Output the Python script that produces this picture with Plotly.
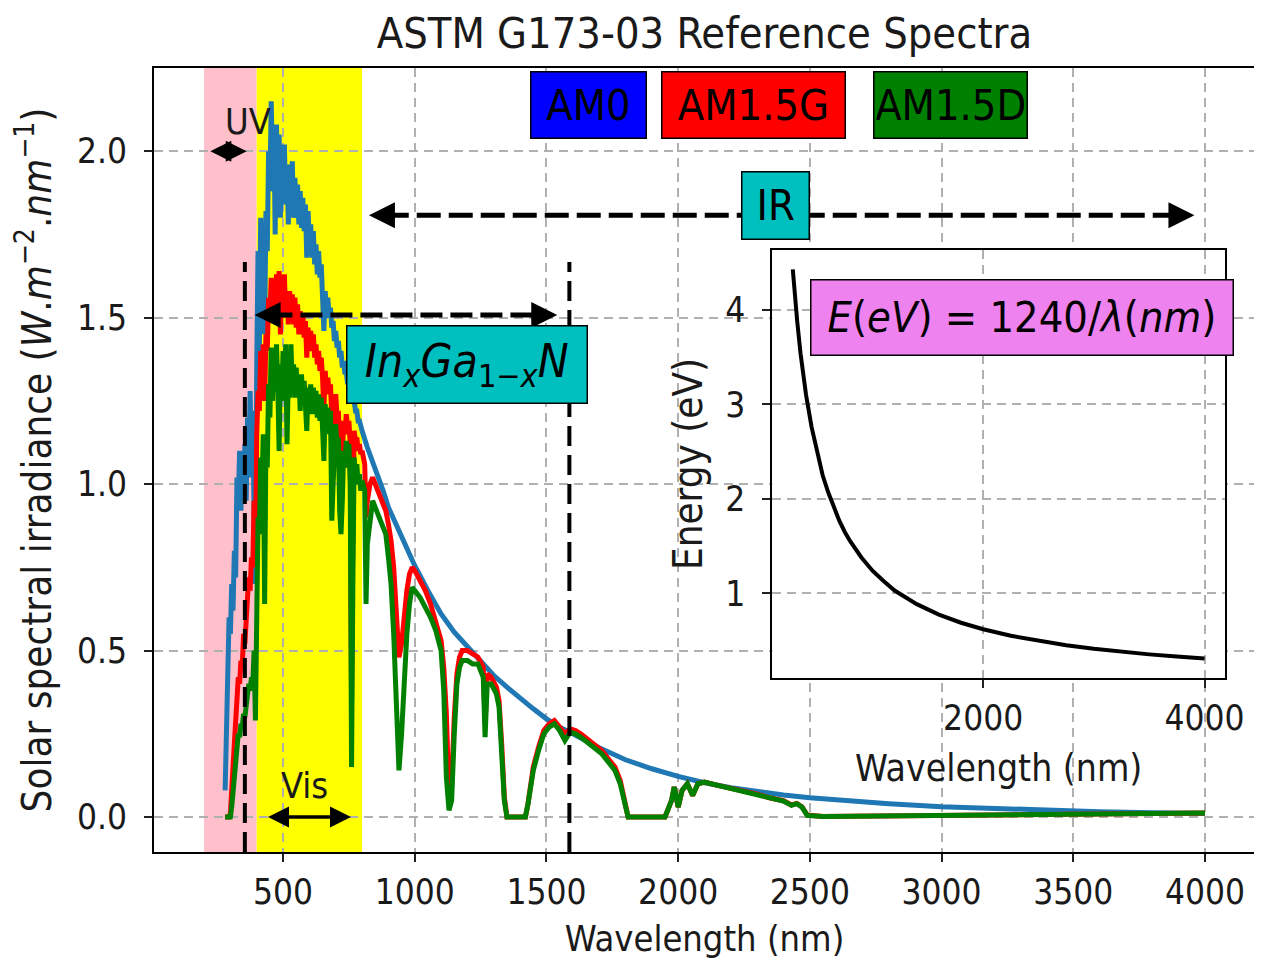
import plotly.graph_objects as go

# ---------------- data ----------------
wl_am0 = [280, 285, 290, 295,
          300, 305, 310, 315, 320, 325, 330, 335, 340, 345,
          350, 355, 360, 365, 370, 375, 380, 385, 390, 395,
          400, 405, 410, 415, 420, 425, 430, 435, 440, 445,
          450, 455, 460, 465, 470, 475, 480, 485, 490, 495,
          500, 505, 510, 515, 520, 525, 530, 535, 540, 545,
          550, 555, 560, 565, 570, 575, 580, 585, 590, 595,
          600, 605, 610, 615, 620, 625, 630, 635, 640, 645,
          650, 655, 660, 665, 670, 675, 680, 685, 690, 695,
          700, 705, 710, 715, 720, 725, 730, 735, 740, 745,
          750, 755, 760, 765, 770, 775, 780, 785, 790, 795,
          800, 820, 850, 880, 900, 950, 1000, 1050, 1100, 1150,
          1200, 1250, 1300, 1350, 1400, 1450, 1500, 1550, 1600, 1650,
          1700, 1800, 1900, 2000, 2100, 2200, 2300, 2400, 2500, 2600,
          2800, 3000, 3200, 3400, 3600, 3800, 4000]
am0 = [0.08, 0.26, 0.50, 0.60,
       0.55, 0.70, 0.62, 0.80, 0.72, 1.02, 0.95, 1.10, 0.92, 1.08,
       0.98, 1.12, 0.95, 1.20, 1.05, 1.28, 1.02, 1.22, 0.90, 0.70,
       1.35, 1.70, 1.40, 1.80, 1.62, 1.78, 1.45, 1.82, 1.70, 2.00,
       1.88, 2.15, 1.95, 2.08, 1.75, 2.08, 1.90, 2.05, 1.80, 2.02,
       1.85, 2.02, 1.84, 1.95, 1.78, 1.96, 1.85, 1.97, 1.80, 1.92,
       1.82, 1.90, 1.78, 1.88, 1.77, 1.86, 1.76, 1.84, 1.68, 1.82,
       1.72, 1.78, 1.68, 1.76, 1.66, 1.72, 1.63, 1.70, 1.62, 1.66,
       1.56, 1.46, 1.58, 1.52, 1.56, 1.50, 1.53, 1.47, 1.49, 1.43,
       1.46, 1.41, 1.43, 1.38, 1.40, 1.35, 1.37, 1.33, 1.34, 1.30,
       1.31, 1.28, 1.28, 1.25, 1.25, 1.22, 1.22, 1.19, 1.19, 1.17,
       1.16, 1.11, 1.05, 0.98, 0.93, 0.84, 0.755, 0.68, 0.61, 0.555,
       0.51, 0.47, 0.425, 0.39, 0.355, 0.325, 0.295, 0.27, 0.25, 0.228,
       0.208, 0.172, 0.145, 0.122, 0.103, 0.088, 0.076, 0.066, 0.058, 0.051,
       0.040, 0.031, 0.025, 0.020, 0.016, 0.013, 0.011]

wl_ground = [280, 290, 295,
             300, 305, 310, 315, 320, 325, 330, 335, 340, 345,
             350, 355, 360, 365, 370, 375, 380, 385, 390, 395,
             400, 405, 410, 415, 420, 425, 430, 435, 440, 445,
             450, 455, 460, 465, 470, 475, 480, 485, 490, 495,
             500, 505, 510, 515, 520, 525, 530, 535, 540, 545,
             550, 555, 560, 565, 570, 575, 580, 585, 590, 595,
             600, 605, 610, 615, 620, 625, 630, 635, 640, 645,
             650, 655, 660, 665, 670, 675, 680, 685, 690, 695,
             700, 705, 710, 715, 720, 725, 730, 735, 740, 745,
             750, 755, 760, 765, 770, 775, 780, 785, 790, 795,
             800, 810, 815, 820, 830, 840, 850, 860, 870, 880,
             890, 900, 910, 920, 930, 940, 950, 960, 970, 980,
             990, 1000, 1020, 1040, 1060, 1080, 1100, 1110, 1120, 1130,
             1140, 1150, 1160, 1170, 1180, 1200, 1220, 1240, 1260, 1267,
             1275, 1290, 1310, 1320, 1330, 1340, 1350, 1380, 1420, 1430,
             1450, 1470, 1490, 1510, 1530, 1550, 1570, 1590, 1610, 1630,
             1660, 1690, 1710, 1740, 1760, 1780, 1800, 1810, 1900, 1950,
             1975, 1985, 2000, 2015, 2035, 2055, 2075, 2100, 2150, 2200,
             2250, 2300, 2350, 2400, 2430, 2450, 2470, 2490, 2550, 2700,
             3000, 3500, 4000]
am15g = [0.00, 0.00, 0.00,
         0.01, 0.06, 0.15, 0.22, 0.30, 0.36, 0.42, 0.40, 0.47, 0.45,
         0.55, 0.52, 0.62, 0.66, 0.72, 0.68, 0.78, 0.75, 0.95, 0.75,
         1.15, 1.28, 1.22, 1.40, 1.32, 1.42, 1.25, 1.45, 1.40, 1.56,
         1.50, 1.62, 1.52, 1.60, 1.50, 1.63, 1.55, 1.64, 1.45, 1.62,
         1.52, 1.63, 1.50, 1.58, 1.48, 1.58, 1.50, 1.57, 1.48, 1.56,
         1.47, 1.54, 1.45, 1.52, 1.45, 1.51, 1.44, 1.49, 1.38, 1.47,
         1.40, 1.46, 1.40, 1.45, 1.38, 1.42, 1.36, 1.40, 1.34, 1.38,
         1.32, 1.22, 1.34, 1.28, 1.32, 1.27, 1.30, 1.15, 1.10, 1.24,
         1.27, 1.20, 1.22, 1.10, 1.00, 1.08, 1.19, 1.15, 1.21, 1.17,
         1.19, 1.12, 0.35, 0.90, 1.16, 1.13, 1.14, 1.10, 1.12, 1.09,
         1.10, 1.06, 0.90, 0.95, 1.00, 1.02, 1.00, 0.98, 0.96, 0.94,
         0.92, 0.88, 0.83, 0.75, 0.60, 0.48, 0.52, 0.62, 0.68, 0.73,
         0.75, 0.74, 0.71, 0.68, 0.64, 0.59, 0.53, 0.45, 0.31, 0.06,
         0.10, 0.30, 0.43, 0.48, 0.50, 0.50, 0.49, 0.48, 0.45, 0.28,
         0.43, 0.42, 0.39, 0.35, 0.22, 0.06, 0.00, 0.00, 0.00, 0.04,
         0.15, 0.21, 0.26, 0.28, 0.29, 0.27, 0.25, 0.265, 0.26, 0.25,
         0.23, 0.21, 0.20, 0.17, 0.15, 0.11, 0.03, 0.00, 0.00, 0.00,
         0.05, 0.09, 0.03, 0.08, 0.10, 0.065, 0.10, 0.105, 0.095, 0.087,
         0.079, 0.069, 0.057, 0.049, 0.036, 0.041, 0.031, 0.006, 0.002, 0.003,
         0.005, 0.010, 0.012]
am15d = [0.00, 0.00, 0.00,
         0.00, 0.03, 0.08, 0.13, 0.18, 0.22, 0.25, 0.24, 0.28, 0.27,
         0.31, 0.30, 0.34, 0.36, 0.40, 0.38, 0.42, 0.40, 0.50, 0.29,
         0.72, 0.90, 0.85, 1.08, 1.00, 1.15, 0.64, 1.12, 1.05, 1.30,
         1.20, 1.41, 1.25, 1.38, 1.28, 1.42, 1.30, 1.10, 1.36, 1.25,
         1.40, 1.30, 1.42, 1.12, 1.33, 1.26, 1.42, 1.28, 1.36, 1.26,
         1.35, 1.27, 1.33, 1.22, 1.33, 1.25, 1.31, 1.22, 1.16, 1.29,
         1.22, 1.30, 1.21, 1.29, 1.22, 1.28, 1.20, 1.27, 1.19, 1.26,
         1.17, 1.07, 1.24, 1.16, 1.23, 1.15, 1.22, 0.89, 1.00, 1.15,
         1.18, 1.10, 1.14, 0.92, 0.85, 0.95, 1.10, 1.05, 1.13, 1.06,
         1.12, 1.00, 0.15, 0.70, 1.08, 1.02, 1.06, 1.00, 1.03, 0.98,
         1.01, 0.98, 0.64, 0.82, 0.90, 0.95, 0.93, 0.91, 0.90, 0.87,
         0.85, 0.78, 0.70, 0.55, 0.30, 0.14, 0.25, 0.42, 0.55, 0.64,
         0.69, 0.68, 0.66, 0.63, 0.60, 0.56, 0.50, 0.38, 0.12, 0.02,
         0.05, 0.25, 0.40, 0.45, 0.47, 0.47, 0.46, 0.46, 0.42, 0.24,
         0.40, 0.40, 0.37, 0.33, 0.20, 0.05, 0.00, 0.00, 0.00, 0.04,
         0.14, 0.20, 0.25, 0.27, 0.28, 0.26, 0.23, 0.255, 0.25, 0.24,
         0.22, 0.20, 0.19, 0.16, 0.14, 0.10, 0.03, 0.00, 0.00, 0.00,
         0.05, 0.09, 0.03, 0.08, 0.10, 0.065, 0.10, 0.105, 0.095, 0.085,
         0.078, 0.068, 0.055, 0.048, 0.035, 0.040, 0.030, 0.005, 0.002, 0.003,
         0.005, 0.010, 0.012]

wl_energy = [280, 300, 320, 350, 375, 400, 450, 500, 550, 600,
             650, 700, 750, 800, 900, 1000, 1100, 1200, 1400, 1600,
             1800, 2000, 2250, 2500, 2750, 3000, 3250, 3500, 3750, 4000]
energy_ev = [4.43, 4.13, 3.88, 3.54, 3.31, 3.10, 2.76, 2.48, 2.25, 2.07,
             1.91, 1.77, 1.65, 1.55, 1.38, 1.24, 1.13, 1.03, 0.886, 0.775,
             0.689, 0.620, 0.551, 0.496, 0.451, 0.413, 0.382, 0.354, 0.331, 0.310]

x_ticks = [500, 1000, 1500, 2000, 2500, 3000, 3500, 4000]
y_ticks = [0.0, 0.5, 1.0, 1.5, 2.0]
inset_x_ticks = [2000, 4000]
inset_y_ticks = [1, 2, 3, 4]

for a, b in ((wl_am0, am0), (wl_ground, am15g), (wl_ground, am15d), (wl_energy, energy_ev)):
    assert len(a) == len(b), (len(a), len(b))

# ---------------- styling ----------------
FONT = "DejaVu Sans Condensed, DejaVu Sans, sans-serif"
TXT = "#1a1a1a"
K = 0.9874   # horizontal scale observed between the figure and the photographed page


def axis_style(standoff_labels=0):
    return dict(showgrid=True, gridcolor="#b0b0b0", gridwidth=1.5, griddash="9px,6px",
                zeroline=False, showline=True, linecolor="black", linewidth=2, mirror=True,
                ticks="outside", ticklen=8, tickwidth=1.5, tickcolor="#222",
                ticklabelstandoff=standoff_labels,
                tickfont=dict(family=FONT, size=35, color=TXT))


fig = go.Figure()
fig.add_trace(go.Scatter(x=wl_am0, y=am0, mode="lines", name="AM0",
                         line=dict(color="#1f77b4", width=5)))
fig.add_trace(go.Scatter(x=wl_ground, y=am15g, mode="lines", name="AM1.5G",
                         line=dict(color="red", width=5)))
fig.add_trace(go.Scatter(x=wl_ground, y=am15d, mode="lines", name="AM1.5D",
                         line=dict(color="green", width=5)))
fig.add_trace(go.Scatter(x=wl_energy, y=energy_ev, mode="lines", name="E",
                         line=dict(color="black", width=4), xaxis="x2", yaxis="y2"))

shapes = [
    dict(type="rect", xref="x", yref="paper", x0=200, x1=400, y0=0, y1=1,
         fillcolor="pink", line=dict(width=0), layer="below"),
    dict(type="rect", xref="x", yref="paper", x0=400, x1=800, y0=0, y1=1,
         fillcolor="yellow", line=dict(width=0), layer="below"),
    dict(type="line", xref="x", yref="y", x0=355, x1=355, y0=-0.105, y1=1.667,
         line=dict(color="black", width=4, dash="20px,9px"), layer="above"),
    dict(type="line", xref="x", yref="y", x0=1587, x1=1587, y0=-0.105, y1=1.667,
         line=dict(color="black", width=4, dash="20px,9px"), layer="above"),
    dict(type="line", xref="x", yref="y", x0=886, x1=3890, y0=1.808, y1=1.808,
         line=dict(color="black", width=5, dash="24px,8px"), layer="above"),
    dict(type="line", xref="x", yref="y", x0=452, x1=1478, y0=1.508, y1=1.508,
         line=dict(color="black", width=5, dash="22px,8px"), layer="above"),
]


def arrow(x_tip, y_tip, x_tail, y_tail, width=4, both=False, size=1.0):
    return dict(x=x_tip, y=y_tip, ax=x_tail, ay=y_tail, xref="x", yref="y",
                axref="x", ayref="y", text="", showarrow=True, arrowhead=2,
                arrowsize=size, arrowwidth=width, arrowcolor="black",
                arrowside="end+start" if both else "end", standoff=0, startstandoff=0)


def box(text, x, y, w, h, color, xref="x", yref="y", size=43):
    # w, h: outer box size on the page (px)
    return dict(x=x, y=y, xref=xref, yref=yref, text=text, showarrow=False,
                font=dict(family=FONT, size=size, color="black"),
                bgcolor=color, bordercolor="black", borderwidth=1.5, borderpad=2,
                width=w / K - 5.5, height=h - 5.5, align="center", valign="middle",
                xanchor="center", yanchor="middle")


annotations = [
    arrow(362, 2.0, 218, 2.0, width=3.5, both=True, size=1.2),
    arrow(758, 0.0, 437, 0.0, width=3.5, both=True, size=1.2),
    arrow(826, 1.808, 886, 1.808, width=4, size=1.3),
    arrow(3960, 1.808, 3890, 1.808, width=4, size=1.3),
    arrow(392, 1.508, 452, 1.508, width=4, size=1.3),
    arrow(1541, 1.508, 1478, 1.508, width=4, size=1.3),
    dict(x=365, y=2.088, xref="x", yref="y", text="UV", showarrow=False,
         font=dict(family=FONT, size=36, color=TXT)),
    dict(x=581, y=0.096, xref="x", yref="y", text="Vis", showarrow=False,
         font=dict(family=FONT, size=36, color=TXT)),
    box("AM0", 1658, 2.139, 114, 66, "blue"),
    box("AM1.5G", 2287, 2.139, 181, 66, "red"),
    box("AM1.5D", 3034, 2.139, 152, 66, "green"),
    box("IR", 2370, 1.837, 67, 67, "#00bfbf"),
    box("<i>In<sub>x</sub>Ga</i><sub>1\u2212<i>x</i></sub><i>N</i>", 1199, 1.359, 237, 77, "#00bfbf",
        size=46),
    box("<i>E</i>(<i>eV</i>) = 1240/<i>\u03bb</i>(<i>nm</i>)", 2347, 3.921, 417, 75, "violet",
        xref="x2", yref="y2", size=43),
]

# plot area on the page: x 152..1258, y 68..852 (figure sits 8 px in from the page corner)
W, H = 1268, 962
L = round(152 / K - 8)
R = W - round(1258 / K - 8)
T = 60
B = H - 844

fig.update_layout(
    width=W, height=H, autosize=False,
    margin=dict(l=L, r=R, t=T, b=B),
    paper_bgcolor="white", plot_bgcolor="white",
    showlegend=False,
    title=dict(text="ASTM G173-03 Reference Spectra", x=0.5, xref="paper",
               y=1 - 25 / H, yref="container", xanchor="center", yanchor="middle",
               font=dict(family=FONT, size=43, color=TXT)),
    xaxis=dict(domain=[0, 1], range=[10, 4190], tickvals=x_ticks,
               title=dict(text="Wavelength (nm)", standoff=15,
                          font=dict(family=FONT, size=36, color=TXT)),
               **axis_style(0)),
    yaxis=dict(domain=[0, 1], range=[-0.105, 2.25], tickvals=y_ticks, tickformat=".1f",
               title=dict(text="Solar spectral irradiance (<i>W</i>.<i>m</i><sup>\u22122</sup>.<i>nm</i><sup>\u22121</sup>)",
                          standoff=39, font=dict(family=FONT, size=40, color=TXT)),
               **axis_style(10)),
    xaxis2=dict(domain=[(773 - 152) / 1106, (1228 - 152) / 1106], anchor="y2",
                range=[94, 4186], tickvals=inset_x_ticks,
                title=dict(text="Wavelength (nm)", standoff=18,
                           font=dict(family=FONT, size=37, color=TXT)),
                **axis_style(0)),
    yaxis2=dict(domain=[(852 - 678) / 784, (852 - 250) / 784], anchor="x2",
                range=[0.104, 4.635], tickvals=inset_y_ticks,
                title=dict(text="Energy (eV)", standoff=10,
                           font=dict(family=FONT, size=40, color=TXT)),
                **axis_style(10)),
    shapes=shapes,
    annotations=annotations,
)

fig.write_html("out.html")
